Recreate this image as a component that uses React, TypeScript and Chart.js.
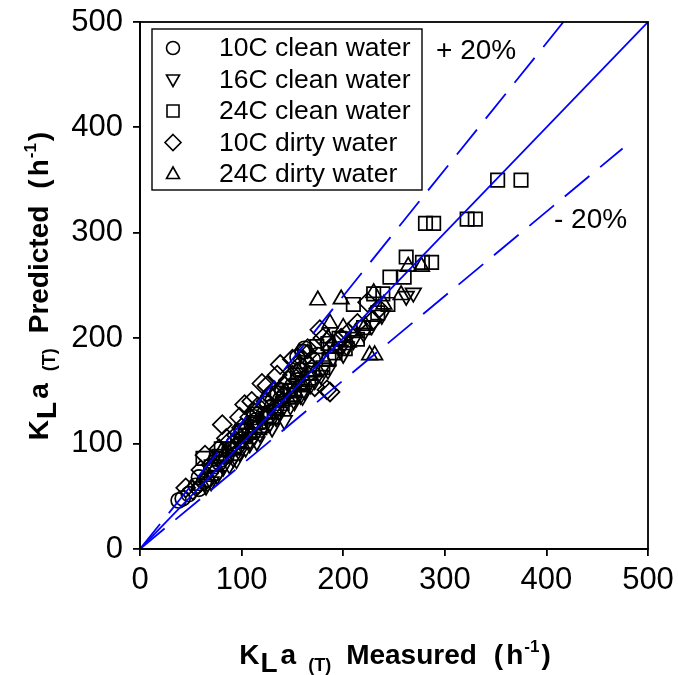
import React, { useEffect, useRef } from 'react';
import { Chart, registerables } from 'chart.js';
Chart.register(...registerables);

const FONT = '"Liberation Sans", Arial, Helvetica, sans-serif';

// Axis ticks
const tickValues = [0, 100, 200, 300, 400, 500];

// Reference lines (1:1, +20%, -20%)
const lineOneX = [0, 500];
const lineOneY = [0, 500];
const linePlusX = [0, 416.7];
const linePlusY = [0, 500];
const lineMinusX = [0, 475];
const lineMinusY = [0, 380];

// 10C clean water (circles)
const c10CleanX = [38, 42, 48, 55, 58, 58, 63, 66, 70, 74, 75, 78, 80, 85, 88, 92, 96, 100, 100, 104, 108, 110, 112, 114, 118, 122, 125, 126, 130, 134, 138, 140, 142, 146, 150, 155, 155, 158, 160, 162, 165, 170, 175];
const c10CleanY = [46, 48, 52, 60, 57, 68, 64, 66, 75, 72, 86, 82, 85, 88, 94, 100, 98, 104, 112, 112, 110, 118, 125, 122, 120, 128, 138, 126, 135, 134, 142, 150, 146, 150, 155, 160, 182, 170, 187, 190, 175, 180, 184];

// 16C clean water (triangles down)
const c16CleanX = [65, 70, 76, 82, 88, 92, 95, 98, 104, 108, 112, 115, 118, 122, 128, 130, 134, 138, 142, 148, 152, 158, 160, 162, 168, 172, 178, 180, 185, 190, 197, 200, 203, 210, 220, 228, 238, 262, 269];
const c16CleanY = [60, 64, 70, 78, 80, 86, 85, 92, 96, 100, 106, 102, 110, 116, 120, 115, 125, 130, 122, 136, 140, 146, 145, 150, 156, 160, 165, 172, 170, 182, 189, 185, 192, 198, 205, 212, 222, 240, 243];

// 24C clean water (squares)
const c24CleanX = [62, 70, 78, 80, 88, 96, 100, 104, 112, 115, 118, 124, 132, 135, 140, 148, 152, 155, 160, 166, 170, 174, 180, 185, 186, 192, 196, 202, 210, 214, 220, 230, 234, 239, 244, 246, 260, 262, 278, 287, 281, 289, 322, 330, 352, 375];
const c24CleanY = [86, 78, 88, 95, 95, 102, 112, 108, 120, 128, 115, 124, 130, 148, 138, 146, 150, 165, 158, 162, 170, 192, 172, 195, 180, 186, 200, 190, 232, 199, 210, 242, 224, 242, 232, 258, 258, 277, 272, 272, 309, 309, 313, 313, 350, 350];

// 10C dirty water (diamonds)
const c10DirtyX = [45, 52, 60, 64, 70, 78, 81, 85, 88, 95, 98, 100, 103, 108, 110, 112, 116, 120, 124, 125, 128, 132, 135, 138, 142, 146, 150, 150, 155, 160, 165, 165, 172, 177, 180, 184, 187, 192, 198, 205, 214, 224, 229, 235];
const c10DirtyY = [58, 56, 75, 89, 80, 95, 118, 105, 102, 108, 125, 115, 137, 125, 140, 130, 135, 157, 140, 155, 145, 150, 165, 175, 155, 160, 165, 180, 172, 180, 185, 190, 154, 208, 200, 151, 149, 195, 200, 205, 214, 234, 217, 228];

// 24C dirty water (triangles up)
const c24DirtyX = [58, 66, 75, 80, 84, 92, 100, 105, 108, 114, 120, 126, 130, 134, 140, 146, 152, 155, 160, 166, 172, 175, 182, 185, 187, 192, 198, 200, 205, 212, 222, 226, 231, 230, 240, 257, 264, 277];
const c24DirtyY = [60, 70, 78, 92, 88, 96, 100, 118, 110, 118, 115, 128, 145, 132, 140, 142, 150, 165, 156, 165, 168, 236, 178, 200, 214, 190, 237, 210, 196, 205, 212, 184, 184, 243, 232, 241, 268, 268];

const legendLabels = ['10C clean water', '16C clean water', '24C clean water', '10C dirty water', '24C dirty water'];
const legendShapes = ['circle', 'triDown', 'square', 'diamond', 'triUp'];

const zip = (xs: number[], ys: number[]) => xs.map((x, i) => ({ x, y: ys[i] }));

type Run = { t: string; size: number; dy: number; gap: number };
const titleRuns = (word: string): Run[] => [
  { t: 'K', size: 28, dy: 0, gap: 0 },
  { t: 'L', size: 28, dy: 8, gap: 1 },
  { t: 'a', size: 28, dy: 0, gap: 3 },
  { t: '(T)', size: 18, dy: 7, gap: 12 },
  { t: word, size: 28, dy: 0, gap: 15 },
  { t: '(', size: 28, dy: 0, gap: 17 },
  { t: 'h', size: 28, dy: 0, gap: 3 },
  { t: '-1', size: 17, dy: -12, gap: 1 },
  { t: ')', size: 28, dy: 0, gap: 2 },
];

function drawRuns(ctx: CanvasRenderingContext2D, runs: Run[], cx: number, cy: number, rotate: boolean) {
  ctx.save();
  ctx.translate(cx, cy);
  if (rotate) ctx.rotate(-Math.PI / 2);
  ctx.fillStyle = '#000';
  ctx.textBaseline = 'alphabetic';
  ctx.textAlign = 'left';
  const widths = runs.map((r) => {
    ctx.font = `bold ${r.size}px ${FONT}`;
    return ctx.measureText(r.t).width;
  });
  const total = widths.reduce((a, b, i) => a + b + runs[i].gap, 0);
  let x = -total / 2;
  runs.forEach((r, i) => {
    x += r.gap;
    ctx.font = `bold ${r.size}px ${FONT}`;
    ctx.fillText(r.t, x, r.dy);
    x += widths[i];
  });
  ctx.restore();
}

function drawMarker(ctx: CanvasRenderingContext2D, shape: string, x: number, y: number) {
  ctx.beginPath();
  if (shape === 'circle') {
    ctx.arc(x, y, 6.5, 0, Math.PI * 2);
  } else if (shape === 'triDown') {
    ctx.moveTo(x - 6.5, y - 4.5);
    ctx.lineTo(x + 6.5, y - 4.5);
    ctx.lineTo(x, y + 7);
    ctx.closePath();
  } else if (shape === 'triUp') {
    ctx.moveTo(x - 6.5, y + 4.5);
    ctx.lineTo(x + 6.5, y + 4.5);
    ctx.lineTo(x, y - 7);
    ctx.closePath();
  } else if (shape === 'square') {
    ctx.rect(x - 6, y - 6, 12, 12);
  } else if (shape === 'diamond') {
    ctx.moveTo(x, y - 8);
    ctx.lineTo(x + 8, y);
    ctx.lineTo(x, y + 8);
    ctx.lineTo(x - 8, y);
    ctx.closePath();
  }
  ctx.stroke();
}

const decorPlugin = {
  id: 'decor',
  afterDraw(chart: any) {
    const ctx: CanvasRenderingContext2D = chart.ctx;
    const a = chart.chartArea;
    // frame
    ctx.save();
    ctx.strokeStyle = '#000';
    ctx.lineWidth = 1.8;
    ctx.strokeRect(a.left, a.top, a.right - a.left, a.bottom - a.top);
    ctx.restore();

    // legend box
    ctx.save();
    ctx.fillStyle = '#fff';
    ctx.fillRect(152, 29, 270, 161);
    ctx.strokeStyle = '#000';
    ctx.lineWidth = 1.4;
    ctx.strokeRect(152, 29, 270, 161);
    ctx.font = `26.5px ${FONT}`;
    ctx.textBaseline = 'middle';
    ctx.textAlign = 'left';
    ctx.fillStyle = '#000';
    legendLabels.forEach((lab, i) => {
      const y = 48 + i * 31.5;
      ctx.lineWidth = 1.6;
      drawMarker(ctx, legendShapes[i], 173, y);
      ctx.fillText(lab, 219, y + 1);
    });
    ctx.restore();

    // annotations
    ctx.save();
    ctx.font = `28px ${FONT}`;
    ctx.fillStyle = '#000';
    ctx.textBaseline = 'middle';
    ctx.textAlign = 'left';
    ctx.fillText('+ 20%', 436, 51);
    ctx.fillText('- 20%', 554, 220);
    ctx.restore();

    // axis titles
    drawRuns(ctx, titleRuns('Measured'), 395, 664, false);
    drawRuns(ctx, titleRuns('Predicted'), 48, 286, true);
  },
};

const markerCommon = {
  showLine: false,
  borderColor: '#000',
  backgroundColor: 'rgba(0,0,0,0)',
  pointBorderWidth: 1.7,
  pointBackgroundColor: 'rgba(0,0,0,0)',
  pointBorderColor: '#000',
};

const lineCommon = {
  showLine: true,
  borderColor: '#0000ff',
  borderWidth: 1.8,
  pointRadius: 0,
  pointHoverRadius: 0,
  fill: false,
  tension: 0,
};

export default function App() {
  const ref = useRef<HTMLCanvasElement>(null);
  useEffect(() => {
    document.body.style.margin = '0';
    const tickFont = { family: FONT, size: 31 };
    const chart = new Chart(ref.current as HTMLCanvasElement, {
      type: 'scatter',
      data: {
        datasets: [
          { ...lineCommon, label: '1:1', data: zip(lineOneX, lineOneY) },
          { ...lineCommon, label: '+20%', data: zip(linePlusX, linePlusY), borderDash: [32, 14] },
          { ...lineCommon, label: '-20%', data: zip(lineMinusX, lineMinusY), borderDash: [32, 14] },
          { ...markerCommon, label: legendLabels[0], data: zip(c10CleanX, c10CleanY), pointStyle: 'circle', pointRadius: 7.5 },
          { ...markerCommon, label: legendLabels[1], data: zip(c16CleanX, c16CleanY), pointStyle: 'triangle', pointRotation: 180, pointRadius: 9 },
          { ...markerCommon, label: legendLabels[2], data: zip(c24CleanX, c24CleanY), pointStyle: 'rect', pointRadius: 9.5 },
          { ...markerCommon, label: legendLabels[3], data: zip(c10DirtyX, c10DirtyY), pointStyle: 'rectRot', pointRadius: 9.5 },
          { ...markerCommon, label: legendLabels[4], data: zip(c24DirtyX, c24DirtyY), pointStyle: 'triangle', pointRadius: 9 },
        ] as any,
      },
      options: {
        responsive: false,
        animation: false,
        devicePixelRatio: 1,
        layout: { padding: { top: 22, right: 30, left: 0, bottom: 0 } },
        plugins: { legend: { display: false }, tooltip: { enabled: false }, title: { display: false } },
        scales: {
          x: {
            type: 'linear',
            min: 0,
            max: 500,
            afterFit: (s: any) => { s.height = 126; s.paddingLeft = 0; s.paddingRight = 0; },
            afterBuildTicks: (s: any) => { s.ticks = tickValues.map((v) => ({ value: v })); },
            ticks: { font: tickFont, color: '#000', padding: 6, maxRotation: 0, autoSkip: false },
            grid: { drawOnChartArea: false, drawTicks: true, tickLength: 7, color: '#000', lineWidth: 1.8 },
            border: { display: true, color: '#000', width: 1.8 },
          },
          y: {
            type: 'linear',
            min: 0,
            max: 500,
            afterFit: (s: any) => { s.width = 140; s.paddingTop = 0; s.paddingBottom = 0; },
            afterBuildTicks: (s: any) => { s.ticks = tickValues.map((v) => ({ value: v })); },
            ticks: { font: tickFont, color: '#000', padding: 10, autoSkip: false },
            grid: { drawOnChartArea: false, drawTicks: true, tickLength: 7, color: '#000', lineWidth: 1.8 },
            border: { display: true, color: '#000', width: 1.8 },
          },
        },
      } as any,
      plugins: [decorPlugin],
    });
    return () => chart.destroy();
  }, []);
  return <canvas ref={ref} width={678} height={675} style={{ display: 'block' }} />;
}
